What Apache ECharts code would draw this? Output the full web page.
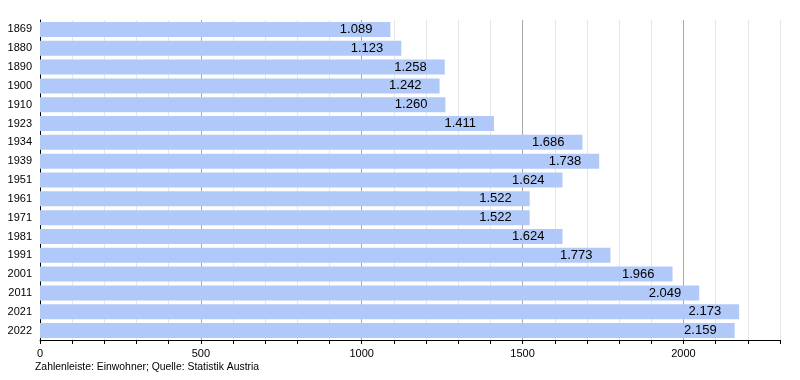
<!DOCTYPE html>
<html><head><meta charset="utf-8">
<script src="https://cdn.jsdelivr.net/npm/echarts@6/dist/echarts.min.js"></script>
<style>html,body{margin:0;padding:0;background:#fff}#c{width:800px;height:380px}</style>
</head><body><div id="c"></div>
<script>
const years = ['1869','1880','1890','1900','1910','1923','1934','1939','1951','1961','1971','1981','1991','2001','2011','2021','2022'];
const population = [1089,1123,1258,1242,1260,1411,1686,1738,1624,1522,1522,1624,1773,1966,2049,2173,2159];
const xTickLabels = [0,500,1000,1500,2000];
const footnote = 'Zahlenleiste: Einwohner; Quelle: Statistik Austria';

const fmt = v => {
  const s = String(v);
  return s.length > 3 ? s.slice(0, s.length - 3) + '.' + s.slice(-3) : s;
};
const chart = echarts.init(document.getElementById('c'), null, {renderer:'canvas'});
chart.setOption({
  animation:false,
  textStyle:{fontFamily:'Liberation Sans, Arial, sans-serif'},
  grid:{left:40,right:20,top:20,bottom:40},
  xAxis:{
    type:'value', min:0, max:2300, interval:100,
    axisLine:{show:true,lineStyle:{color:'#000',width:1}},
    axisTick:{show:true,length:4,lineStyle:{color:'#000'}},
    axisLabel:{color:'#000',fontSize:11,margin:8,
      formatter:v => xTickLabels.includes(v) ? String(v) : ''},
    splitLine:{show:true,lineStyle:{color:['#ffffff','#e6e6e6','#e6e6e6','#e6e6e6','#e6e6e6','#a8a8a8','#e6e6e6','#e6e6e6','#e6e6e6','#e6e6e6','#a8a8a8','#e6e6e6','#e6e6e6','#e6e6e6','#e6e6e6','#a8a8a8','#e6e6e6','#e6e6e6','#e6e6e6','#e6e6e6','#a8a8a8','#e6e6e6','#e6e6e6','#e6e6e6'],width:1}}
  },
  yAxis:{
    type:'category', data:years, inverse:true,
    axisLine:{show:true,lineStyle:{color:'#000',width:1}},
    axisTick:{show:false},
    axisLabel:{color:'#000',fontSize:11,margin:8},
    splitLine:{show:false}
  },
  series:[{
    type:'bar', data:population, barWidth:15,
    itemStyle:{color:'#b0c9f8'},
    label:{show:true,position:'insideRight',distance:18,color:'#000',fontSize:13,
      formatter:p => fmt(p.value)}
  }],
  graphic:[{type:'text',left:35,top:362,style:{text:footnote,fontSize:10.4,fill:'#000',fontFamily:'Liberation Sans, Arial, sans-serif'}}]
});
</script></body></html>
